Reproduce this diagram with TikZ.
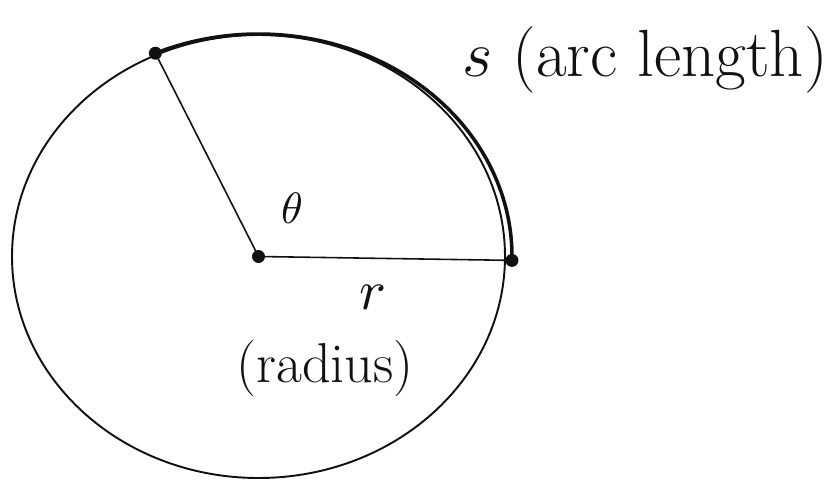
\documentclass[tikz,border=0pt]{standalone}
\usepackage{tikz}
\usepackage{xcolor}
\usetikzlibrary{calc}
\definecolor{Ink}{HTML}{111111}
\tikzset{
  rim/.style={draw=Ink, line width=1.1pt},
  spoke/.style={draw=Ink, line width=0.9pt},
  arcline/.style={draw=Ink, line width=2pt, line cap=round},
  lbl/.style={text=Ink, inner sep=0pt}
}
\newcommand{\pointdot}[1]{
  \fill[Ink] (#1) circle (0.13);
}
\begin{document}
\begin{tikzpicture}
        \useasboundingbox (0,0) rectangle (16.7,9.6);
        \coordinate (O) at (5.17,4.47);
        \coordinate (B) at ($(O)+(114:5.07cm and 4.45cm)$);
        \coordinate (A) at ($(O)+(-1:5.07cm and 4.45cm)$);
        \draw[rim] (O) ellipse [x radius=4.93, y radius=4.43];
        \draw[arcline] (B) arc[start angle=114, end angle=-1, x radius=5.07, y radius=4.45];
        \draw[spoke] (O) -- (A);
        \draw[spoke] (O) -- (B);
        \pointdot{O}
        \pointdot{A}
        \pointdot{B}
        \node[lbl] (arclabel) at (12.9,8.4) {\fontsize{38}{44}\selectfont\scalebox{1.5}{$s$} (arc length)};
        \node[lbl] (theta) at (5.84,5.44) {\scalebox{2.5}{$\theta$}};
        \node[lbl] (rlabel) at (7.46,3.66) {\scalebox{3.2}{$r$}};
        \node[lbl] (radlabel) at (6.5,2.24) {\fontsize{32}{36}\selectfont (radius)};
      \end{tikzpicture}
\end{document}
